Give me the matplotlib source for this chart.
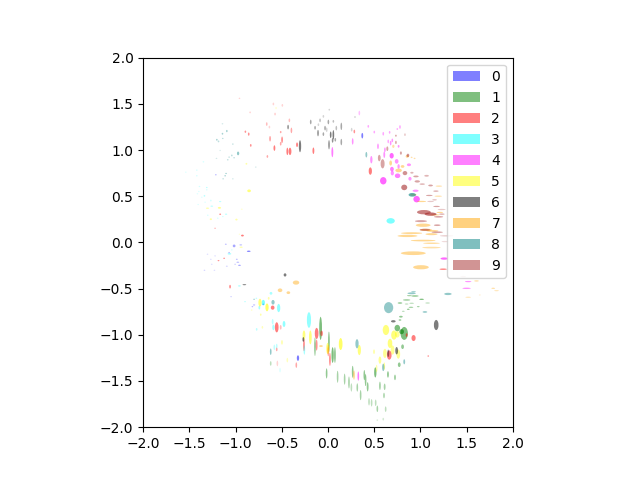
import matplotlib
matplotlib.use("Agg")
import matplotlib.pyplot as plt
from matplotlib.patches import Ellipse, Patch

# each row: centre x, centre y, width, height, weight
class_0 = [(.371,1.155,.02,.06,.6),(-.325,-1.252,.025,.06,.6),(-.7,-.67,.02,.015,.5),(-.8,-.677,.025,.012,.3),(-.818,-.695,.012,.012,.3),(-1.049,-.587,.015,.012,.2),(-1.016,-.038,.03,.03,.4),(-.858,-.096,.04,.012,.6),(-1.106,-.02,.02,.01,.3),(-.944,-.027,.03,.008,.3),(-1.07,-.11,.02,.01,.3),(-.987,-.183,.02,.01,.3),(-.976,-.215,.03,.012,.3),(-.958,-.248,.03,.012,.4),(-1.005,-.237,.02,.012,.2),(-1.095,-.258,.02,.01,.2),(-1.214,.732,.015,.015,.3),(-1.304,-.128,.012,.008,.15),(-1.268,-.183,.012,.008,.15),(-1.258,-.237,.012,.008,.15),(-1.222,-.146,.012,.008,.15),(-1.337,-.302,.015,.008,.2),(-1.229,-.302,.012,.008,.15)]
class_1 = [(.825,-.985,.08,.14,.6),(.75,-.927,.06,.07,.6),(.797,-.966,.05,.055,.7),(.807,-1.129,.03,.05,.5),(.771,-1.324,.03,.05,.5),(.649,-1.429,.02,.07,.5),(.725,-1.461,.015,.06,.5),(.512,-1.407,.025,.11,.6),(.393,-1.436,.012,.11,.5),(.267,-1.4,.012,.13,.5),(.18,-1.48,.012,.12,.4),(.227,-1.516,.015,.13,.4),(.253,-1.57,.012,.09,.3),(.317,-1.57,.012,.09,.4),(.407,-1.49,.012,.13,.5),(.429,-1.563,.02,.1,.5),(.353,-1.653,.012,.11,.4),(.562,-1.552,.02,.09,.4),(.613,-1.563,.02,.07,.4),(.606,-1.657,.015,.06,.4),(.444,-1.725,.012,.08,.3),(.472,-1.736,.012,.08,.3),(.516,-1.736,.012,.07,.3),(.534,-1.801,.012,.07,.4),(.624,-1.805,.012,.06,.3),(.598,-1.913,.008,.03,.2),(.534,-1.924,.008,.02,.15),(.779,-.656,.05,.012,.6),(.851,-.623,.08,.015,.5),(.88,-.576,.05,.01,.4),(.941,-.58,.08,.012,.6),(1.013,-.616,.05,.01,.6),(1.078,-.656,.05,.012,.3),(.905,-.659,.05,.01,.3),(.851,-.667,.04,.01,.3),(.977,-.695,.03,.01,.4),(.898,-.703,.05,.015,.4),(.869,-.724,.03,.012,.5),(.815,-.746,.03,.01,.3),(.789,-.804,.04,.02,.5),(.779,-.84,.03,.02,.4),(-.015,-1.418,.012,.11,.5),(.104,-1.454,.015,.13,.4),(-.08,-.93,.03,.25,.6),(-.141,-1.129,.015,.2,.5),(.01,-1.075,.02,.22,.5),(.05,-1.219,.025,.17,.6),(.075,-1.219,.02,.17,.5),(-.62,-1.31,.012,.05,.3)]
class_2 = [(.458,.772,.035,.08,.6),(.285,1.2,.01,.04,.5),(1.247,-.29,.08,.015,.6),(.926,-1.035,.045,.065,.6),(.851,-1.003,.02,.04,.6),(.663,-1.219,.05,.1,.6),(1.085,-1.23,.015,.02,.4),(-1.06,-.479,.02,.04,.5),(-.599,-.706,.04,.045,.6),(-.555,-.919,.04,.11,.6),(-.512,-.919,.02,.05,.3),(-.555,-1.158,.01,.04,.4),(-.548,-1.31,.01,.06,.2),(-.343,-1.328,.012,.06,.4),(-.26,-1.111,.02,.13,.5),(-.123,-.985,.04,.12,.6),(-.123,-1.111,.02,.12,.5),(-.069,-.985,.03,.06,.5),(.021,-1.266,.02,.14,.5),(.003,-1.183,.02,.1,.4),(-1.167,.305,.02,.012,.6),(-.926,.074,.03,.02,.6),(-1.222,.153,.02,.01,.3),(-1.185,-.197,.02,.012,.5),(-1.124,-.172,.02,.012,.5),(-.894,1.198,.01,.025,.5),(-.858,1.172,.015,.035,.5),(-.836,1.05,.015,.03,.5),(-.656,.93,.01,.03,.4),(-.627,1.122,.02,.06,.4),(-.663,1.281,.015,.04,.3),(-.634,1.248,.01,.03,.2),(-.591,1.498,.01,.03,.2),(-.494,1.483,.01,.03,.2),(-.573,1.389,.02,.03,.2),(-.418,1.321,.01,.04,.3),(-.396,1.212,.01,.06,.4),(-.512,1.194,.01,.025,.4),(-.497,1.111,.02,.07,.5),(-.512,1.068,.01,.04,.4),(-.58,1.021,.02,.06,.6),(-.44,.985,.02,.08,.6),(-.411,.985,.03,.08,.6),(-.335,1.057,.02,.05,.6),(-.158,.992,.02,.07,.6),(-.843,1.407,.01,.02,.2),(-.958,1.559,.01,.015,.2)]
class_3 = [(.678,.233,.09,.06,.6),(-.534,-.71,.035,.09,.5),(-.7,-.652,.035,.06,.6),(-.743,-.706,.02,.04,.4),(-.617,-.551,.03,.03,.4),(-.959,-.471,.03,.01,.4),(-.898,-.641,.015,.01,.3),(-.775,-.605,.015,.012,.3),(-.599,-.858,.02,.06,.3),(-.591,-.92,.025,.06,.4),(-.476,-.883,.03,.065,.5),(-.772,-.941,.01,.03,.3),(-.581,-1.136,.015,.06,.3),(-.555,-1.122,.012,.05,.3),(-.519,-1.382,.012,.05,.15),(-.206,-.84,.045,.17,.5),(-.256,-1.165,.015,.1,.4),(-1.067,-.124,.04,.012,.5),(-1.103,.305,.025,.015,.3),(-1.138,.28,.015,.012,.2),(-1.193,.262,.015,.012,.2),(-1.258,.392,.03,.012,.3),(-1.167,.442,.025,.012,.3),(-1.268,.453,.015,.02,.2),(-1.337,.504,.015,.02,.3),(-1.312,.594,.012,.012,.3),(-1.312,.569,.012,.012,.2),(-1.391,.605,.01,.012,.2),(-1.413,.526,.01,.012,.15),(-1.398,.551,.01,.01,.15),(-1.366,.489,.01,.01,.15),(-1.33,.435,.015,.01,.15),(-1.405,.41,.012,.012,.15),(-1.42,.782,.012,.012,.2),(-1.42,.721,.01,.015,.2),(-1.348,.872,.01,.015,.2),(-1.539,.76,.012,.01,.15),(-1.301,.294,.012,.012,.2),(-1.041,-.081,.012,.012,.2)]
class_4 = [(.598,.667,.07,.08,.7),(.959,.468,.07,.07,.7),(.948,.559,.065,.025,.5),(.887,.689,.035,.04,.5),(.753,.721,.06,.05,.6),(.692,.793,.04,.05,.6),(.696,.75,.035,.05,.5),(.743,.877,.04,.05,.5),(.764,.822,.025,.05,.5),(.876,.84,.045,.03,.5),(.469,.895,.025,.08,.5),(.609,.949,.02,.07,.5),(.616,1.003,.015,.05,.5),(.689,.938,.045,.06,.7),(.541,1.04,.018,.06,.5),(.678,1.075,.015,.05,.5),(.652,1.093,.012,.04,.4),(.696,1.104,.015,.04,.5),(.598,1.176,.012,.04,.4),(.667,1.191,.01,.03,.4),(.779,1.249,.015,.04,.4),(.75,1.227,.01,.02,.4),(.501,1.194,.01,.03,.4),(.436,1.256,.01,.03,.4),(.339,1.4,.01,.05,.3),(.267,1.093,.015,.07,.5),(.764,1.04,.02,.03,.5),(1.258,-.175,.08,.025,.7),(1.517,-.424,.07,.012,.5),(1.5,-.497,.09,.015,.5),(.328,-1.447,.012,.1,.6),(.047,.977,.02,.11,.6)]
class_5 = [(.627,-.948,.07,.11,.6),(.714,-1.003,.06,.1,.6),(.75,-.995,.05,.07,.5),(.671,-1.093,.05,.1,.6),(.699,-1.165,.04,.1,.5),(.761,-1.209,.04,.1,.5),(.616,-1.201,.04,.1,.5),(.498,-1.183,.02,.05,.4),(.562,-1.274,.03,.08,.5),(.526,-1.364,.015,.08,.4),(.609,-1.339,.015,.08,.5),(.339,-1.165,.035,.11,.6),(.137,-1.1,.04,.13,.7),(-.736,-.652,.035,.085,.6),(-.66,-.703,.035,.085,.7),(-.642,-.605,.02,.03,.4),(-.728,-.782,.015,.025,.4),(-.71,-.919,.01,.03,.3),(-.826,-.732,.015,.01,.3),(-.498,-1.082,.015,.05,.4),(-.44,-1.274,.01,.05,.3),(-.26,-1.003,.03,.1,.6),(-.191,-1.028,.03,.15,.6),(-.004,-1.147,.03,.12,.6),(-.854,.558,.04,.03,.6),(-.883,.851,.02,.02,.4),(-1.175,.374,.035,.02,.5),(-1.304,.37,.035,.012,.4),(-1.268,.251,.025,.02,.4),(-.991,.247,.025,.02,.4),(-.933,.359,.02,.015,.2),(-.94,-.052,.035,.012,.4),(-.958,.088,.012,.012,.2),(-.562,1.454,.012,.025,.2)]
class_6 = [(.144,1.256,.01,.08,.4),(.144,1.086,.01,.07,.4),(.256,1.22,.012,.04,.2),(.292,1.357,.01,.02,.2),(1.171,-.894,.05,.11,.6),(.707,-.854,.05,.025,.6),(.743,-1.172,.03,.08,.6),(.652,-1.2,.02,.08,.5),(-.465,-.352,.03,.035,.6),(-.905,-.457,.04,.012,.5),(-.267,-1.05,.02,.05,.6),(-.303,1.041,.025,.13,.6),(-.432,1.248,.012,.05,.5),(-.187,1.303,.012,.05,.4),(-.14,1.241,.012,.04,.4),(-.108,1.183,.012,.07,.5),(-.104,1.274,.01,.03,.2),(-.05,1.172,.01,.04,.4),(-.086,1.321,.01,.04,.3),(-.05,1.364,.01,.03,.2),(.004,1.303,.012,.05,.4),(.058,1.31,.01,.03,.3),(.014,1.436,.01,.02,.2),(-.032,1.237,.012,.05,.4),(-.014,1.219,.01,.05,.2),(.029,1.165,.012,.07,.6),(.058,1.165,.012,.1,.6),(.011,1.057,.015,.1,.5),(.05,1.104,.012,.05,.5),(.079,1.111,.012,.04,.4),(.09,1.237,.01,.05,.3)]
class_7 = [(.923,-.117,.27,.04,.5),(1.006,-.269,.17,.045,.5),(.86,.07,.216,.025,.5),(.905,.10,.23,.02,.5),(1.03,.186,.16,.036,.5),(1.06,.136,.13,.025,.5),(1.13,.125,.13,.02,.5),(1.12,.089,.13,.022,.5),(1.03,.02,.27,.018,.5),(1.12,-.009,.18,.012,.5),(1.12,-.056,.2,.018,.4),(.923,.515,.072,.02,.5),(1.013,.443,.1,.014,.5),(1.193,.5,.08,.01,.4),(1.2,.609,.07,.011,.4),(1.157,.298,.1,.012,.5),(1.21,.324,.07,.012,.5),(.764,.779,.07,.04,.5),(.678,.859,.03,.055,.5),(.807,.822,.04,.03,.5),(.858,.931,.035,.03,.5),(.905,.92,.02,.015,.4),(.937,.909,.02,.015,.4),(.707,1.04,.025,.035,.4),(1.607,-.417,.05,.015,.4),(1.788,-.497,.04,.01,.4),(1.824,-.522,.05,.01,.3),(1.517,-.594,.06,.01,.3),(1.643,-.569,.02,.008,.2),(.281,-1.436,.02,.1,.5),(-.346,-.435,.07,.045,.5),(-.519,-.518,.05,.04,.5),(-.429,-.544,.04,.03,.5),(-.076,-1.122,.04,.02,.5),(.003,-1.158,.02,.1,.5)]
class_8 = [(.415,.949,.02,.06,.5),(.912,.515,.08,.04,.7),(.656,-.706,.1,.12,.5),(1.298,-.558,.08,.025,.5),(.905,-.551,.09,.02,.5),(.926,-.533,.05,.015,.4),(.314,-1.097,.035,.1,.5),(.598,-1.353,.025,.08,.5),(.825,-1.292,.02,.055,.5),(1.049,-.753,.05,.015,.6),(-.595,-.648,.035,.05,.5),(-.62,-1.183,.015,.07,.5),(-.8,-.616,.015,.01,.4),(-.973,.963,.025,.04,.5),(-1.142,1.284,.01,.015,.2),(-1.095,1.205,.012,.025,.4),(-1.142,1.176,.01,.02,.4),(-1.203,1.111,.01,.02,.4),(-1.185,1.093,.01,.02,.3),(-1.139,1.125,.012,.012,.3),(-1.03,1.064,.015,.01,.3),(-1.041,.941,.015,.02,.3),(-1.016,.916,.015,.015,.3),(-1.07,.923,.012,.012,.3),(-1.085,.894,.012,.015,.3),(-1.207,.909,.01,.012,.2),(-1.103,.746,.015,.012,.4),(-1.113,.721,.012,.015,.4),(-1.135,.688,.012,.012,.3),(-1.03,.688,.012,.012,.2),(-.782,.815,.015,.01,.2),(-1.167,.995,.015,.01,.15)]
class_9 = [(.591,.851,.043,.10,.5),(.555,.913,.03,.07,.5),(.825,.595,.065,.06,.7),(.833,.750,.05,.045,.6),(.908,.754,.036,.02,.4),(.952,.714,.058,.02,.5),(.966,.660,.058,.025,.5),(1.02,.631,.058,.014,.5),(1.11,.616,.05,.02,.5),(1.067,.721,.05,.02,.4),(1.168,.555,.058,.011,.5),(1.096,.508,.072,.014,.5),(1.153,.461,.05,.018,.3),(1.11,.443,.072,.014,.3),(1.175,.389,.072,.014,.5),(1.23,.356,.086,.014,.3),(1.038,.327,.15,.047,.7),(1.11,.306,.13,.036,.8),(1.197,.277,.10,.018,.5),(1.233,.306,.058,.011,.5),(1.006,.230,.13,.022,.5),(1.182,.186,.072,.018,.5),(1.049,.136,.115,.022,.6),(1.182,.11,.122,.018,.5),(1.283,.071,.144,.014,.3),(1.265,.009,.072,.014,.2),(.735,1.155,.014,.022,.5),(.833,1.166,.014,.029,.3),(.735,1.082,.014,.036,.5),(.642,1.014,.022,.05,.5),(.865,.942,.029,.036,.6),(.789,.967,.022,.036,.5),(1.463,-.37,.06,.01,.2)]

classes = [class_0, class_1, class_2, class_3, class_4, class_5, class_6, class_7, class_8, class_9]
labels = ["0", "1", "2", "3", "4", "5", "6", "7", "8", "9"]
colors = ["blue", "green", "red", "cyan", "magenta", "yellow", "black", "orange", "teal", "brown"]
limits = (-2, 2)

fig, ax = plt.subplots(figsize=(6.4, 4.8), dpi=100)
for rows, color in zip(classes, colors):
    for x, y, w, h, a in rows:
        ax.add_patch(Ellipse((x, y), max(w, 0.018), max(h, 0.014),
                             facecolor=color, edgecolor="none", alpha=a * 0.85))
ax.set_xlim(limits)
ax.set_ylim(limits)
ax.set_aspect("equal")
ax.legend(handles=[Patch(facecolor=c, edgecolor="none", alpha=0.5, label=l)
                   for c, l in zip(colors, labels)],
          loc="upper right")
fig.savefig("out.png", dpi=100)
